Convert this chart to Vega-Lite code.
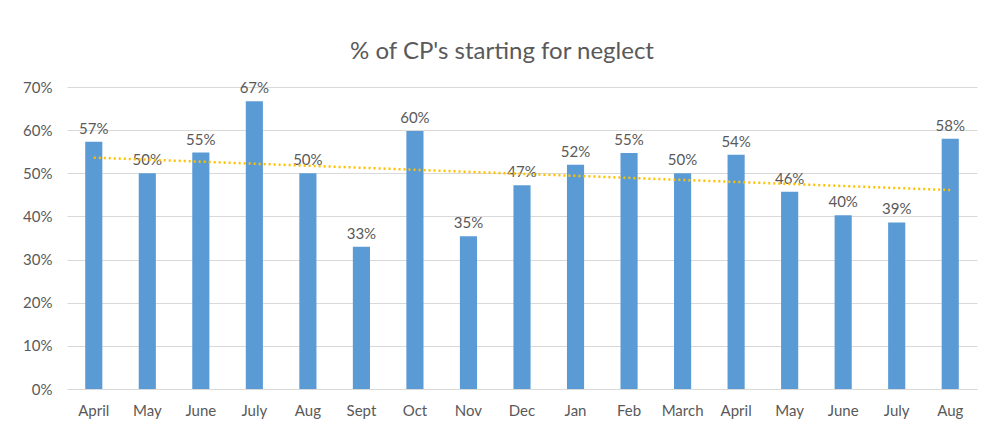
{
  "$schema": "https://vega.github.io/schema/vega-lite/v6.json",
  "width": 910,
  "height": 302,
  "autosize": {"type": "none"},
  "padding": {"left": 67, "top": 87, "right": 7, "bottom": 37},
  "background": "white",
  "config": {
    "font": "Lato",
    "view": {"stroke": null},
    "axis": {"labelFont": "Lato", "labelColor": "#595959", "labelFontSize": 15, "ticks": false, "grid": false}
  },
  "title": {
    "text": "% of CP's starting for neglect",
    "font": "Lato",
    "fontSize": 24,
    "fontWeight": "normal",
    "color": "#595959",
    "anchor": "middle",
    "dx": -20,
    "offset": 16
  },
  "datasets": {
    "d": [
      {"i": 0, "key": "April_1", "v": 0.573},
      {"i": 1, "key": "May_1", "v": 0.5},
      {"i": 2, "key": "June_1", "v": 0.548},
      {"i": 3, "key": "July_1", "v": 0.667},
      {"i": 4, "key": "Aug_1", "v": 0.5},
      {"i": 5, "key": "Sept", "v": 0.33},
      {"i": 6, "key": "Oct", "v": 0.598},
      {"i": 7, "key": "Nov", "v": 0.354},
      {"i": 8, "key": "Dec", "v": 0.472},
      {"i": 9, "key": "Jan", "v": 0.52},
      {"i": 10, "key": "Feb", "v": 0.547},
      {"i": 11, "key": "March", "v": 0.5},
      {"i": 12, "key": "April_2", "v": 0.543},
      {"i": 13, "key": "May_2", "v": 0.457},
      {"i": 14, "key": "June_2", "v": 0.403},
      {"i": 15, "key": "July_2", "v": 0.386},
      {"i": 16, "key": "Aug_2", "v": 0.58}
    ]
  },
  "data": {"name": "d"},
  "encoding": {
    "x": {
      "field": "key",
      "type": "nominal",
      "sort": null,
      "scale": {
        "domain": ["April_1","May_1","June_1","July_1","Aug_1","Sept","Oct","Nov","Dec","Jan","Feb","March","April_2","May_2","June_2","July_2","Aug_2"],
        "paddingInner": 0.68,
        "paddingOuter": 0.34
      },
      "axis": {
        "title": null,
        "labelAngle": 0,
        "labelPadding": 14,
        "labelExpr": "split(datum.label, '_')[0]",
        "domainColor": "#d9d9d9",
        "domainWidth": 1
      }
    },
    "y": {
      "field": "v",
      "type": "quantitative",
      "scale": {"domain": [0, 0.7]},
      "axis": {
        "title": null,
        "format": ".0%",
        "values": [0, 0.1, 0.2, 0.3, 0.4, 0.5, 0.6, 0.7],
        "grid": true,
        "gridColor": "#d9d9d9",
        "gridWidth": 1,
        "domain": false,
        "labelPadding": 15
      }
    }
  },
  "layer": [
    {"mark": {"type": "bar", "color": "#5B9BD5"}},
    {
      "mark": {"type": "text", "baseline": "bottom", "dy": -5, "fontSize": 15, "color": "#595959", "font": "Lato"},
      "encoding": {"text": {"field": "v", "type": "quantitative", "format": ".0%"}}
    },
    {
      "transform": [
        {"regression": "v", "on": "i"},
        {"lookup": "i", "from": {"data": {"name": "d"}, "key": "i", "fields": ["key"]}}
      ],
      "mark": {"type": "line", "color": "#FFC000", "strokeWidth": 2.5, "strokeDash": [2, 3]},
      "encoding": {}
    }
  ]
}
